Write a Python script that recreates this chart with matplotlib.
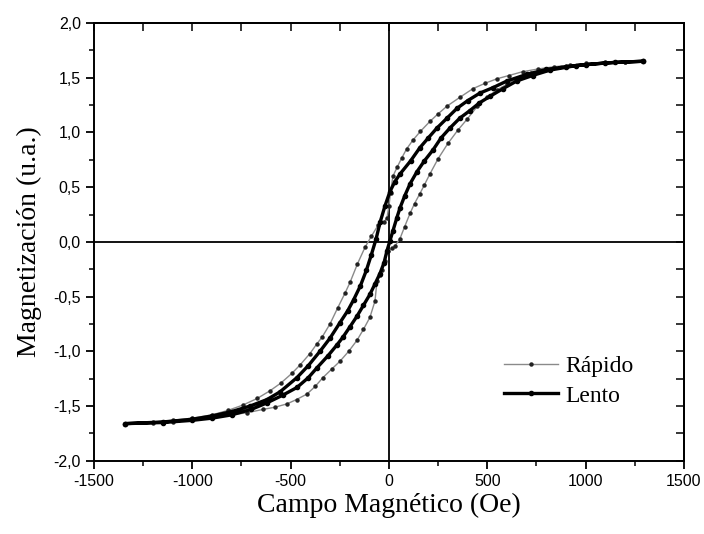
import numpy as np
import matplotlib
matplotlib.use("Agg")
from matplotlib import pyplot as plt
from matplotlib.ticker import MultipleLocator, FuncFormatter

# Rapido loop (outer, wider) - descending branch then ascending branch
rap_h_down = [1290, 1200, 1100, 1000, 920, 840, 760, 680, 610, 549, 490, 427, 360, 295, 250,
              208, 160, 122, 90, 66, 41, 20, 8, 0, -10, -25, -56, -90, -122, -160, -198, -224,
              -260, -300, -340, -366, -402, -450, -493, -550, -605, -670, -742, -820, -900,
              -1000, -1100, -1200, -1340]
rap_m_down = [1.65, 1.645, 1.635, 1.625, 1.615, 1.60, 1.58, 1.555, 1.52, 1.49, 1.45, 1.40, 1.32,
              1.24, 1.17, 1.10, 1.01, 0.93, 0.85, 0.77, 0.68, 0.60, 0.45, 0.33, 0.22, 0.18, 0.15,
              0.05, -0.05, -0.20, -0.37, -0.47, -0.60, -0.75, -0.87, -0.93, -1.02, -1.12, -1.20,
              -1.29, -1.36, -1.43, -1.49, -1.54, -1.58, -1.61, -1.63, -1.645, -1.66]
rap_h_up = [-1340, -1200, -1100, -1000, -900, -800, -720, -640, -580, -519, -470, -417, -375,
            -336, -290, -249, -205, -163, -130, -97, -71, -61, -45, -36, -20, -5, 15, 30, 56, 80,
            107, 130, 157, 180, 208, 250, 300, 350, 397, 450, 498, 550, 600, 660, 720, 800, 900,
            1000, 1100, 1200, 1290]
rap_m_up = [-1.665, -1.655, -1.645, -1.63, -1.61, -1.58, -1.56, -1.53, -1.51, -1.48, -1.44,
            -1.39, -1.32, -1.24, -1.16, -1.09, -1.00, -0.90, -0.80, -0.69, -0.54, -0.36, -0.30,
            -0.26, -0.17, -0.08, -0.06, -0.04, 0.03, 0.14, 0.26, 0.35, 0.44, 0.52, 0.62, 0.76,
            0.90, 1.02, 1.12, 1.24, 1.32, 1.39, 1.44, 1.50, 1.54, 1.58, 1.61, 1.63, 1.64, 1.645,
            1.65]

# Lento loop (inner, narrower)
len_h_down = [1290, 1150, 1000, 900, 800, 700, 600, 530, 463, 400, 346, 295, 244, 200, 157, 110,
              56, 30, 5, -20, -45, -65, -90, -115, -145, -180, -210, -250, -300, -351, -410, -468,
              -554, -620, -707, -800, -900, -1000, -1150, -1340]
len_m_down = [1.65, 1.64, 1.62, 1.60, 1.575, 1.53, 1.47, 1.41, 1.36, 1.29, 1.22, 1.13, 1.04,
              0.95, 0.86, 0.74, 0.62, 0.55, 0.46, 0.33, 0.18, 0.03, -0.12, -0.26, -0.40, -0.53,
              -0.63, -0.74, -0.88, -1.00, -1.13, -1.24, -1.37, -1.44, -1.50, -1.55, -1.59, -1.62,
              -1.645, -1.66]
len_h_up = [-1340, -1150, -1000, -900, -800, -700, -620, -540, -468, -410, -366, -310, -264,
            -234, -200, -163, -130, -97, -70, -46, -25, -10, 5, 20, 40, 56, 80, 107, 142, 180, 224,
            265, 310, 360, 412, 460, 514, 580, 650, 730, 820, 950, 1100, 1290]
len_m_up = [-1.66, -1.65, -1.63, -1.61, -1.58, -1.53, -1.47, -1.40, -1.33, -1.24, -1.15, -1.04,
            -0.94, -0.87, -0.78, -0.68, -0.58, -0.48, -0.38, -0.29, -0.19, -0.08, 0.01, 0.10,
            0.22, 0.31, 0.42, 0.53, 0.64, 0.74, 0.84, 0.95, 1.04, 1.13, 1.20, 1.27, 1.33, 1.40,
            1.47, 1.52, 1.57, 1.61, 1.635, 1.65]

x_ticks = [-1500, -1000, -500, 0, 500, 1000, 1500]
y_ticks = [-2.0, -1.5, -1.0, -0.5, 0.0, 0.5, 1.0, 1.5, 2.0]

serif = "Liberation Serif"
sans = "Liberation Sans"

fig = plt.figure(figsize=(7.04, 5.34), dpi=100)
ax = fig.add_axes([0.1335, 0.137, 0.838, 0.82])

ax.axhline(0, color="black", lw=1.3, zorder=1)
ax.axvline(0, color="black", lw=1.3, zorder=1)

ax.plot(rap_h_down + rap_h_up, rap_m_down + rap_m_up, color="#8a8a8a", lw=1.0,
        marker="o", ms=2.2, mfc="#222222", mec="#222222", label="Rápido", zorder=3)
ax.plot(len_h_down + len_h_up, len_m_down + len_m_up, color="black", lw=2.4,
        marker="o", ms=3.0, mfc="black", mec="black", label="Lento", zorder=4)

ax.set_xlim(-1500, 1500)
ax.set_ylim(-2.0, 2.0)
ax.set_xticks(x_ticks)
ax.set_yticks(y_ticks)
ax.xaxis.set_minor_locator(MultipleLocator(250))
ax.yaxis.set_minor_locator(MultipleLocator(0.25))
ax.xaxis.set_major_formatter(FuncFormatter(lambda v, p: f"{int(v)}"))
ax.yaxis.set_major_formatter(FuncFormatter(lambda v, p: f"{v:.1f}".replace(".", ",")))
ax.tick_params(which="major", direction="out", length=6, width=1.3, labelsize=11.5)
ax.tick_params(which="minor", direction="out", length=3.5, width=1.1)
for lab in ax.get_xticklabels() + ax.get_yticklabels():
    lab.set_fontfamily(sans)

for s in ax.spines.values():
    s.set_linewidth(1.4)

# mirrored inward ticks on top and right
top = ax.secondary_xaxis("top")
top.set_xticks(x_ticks)
top.xaxis.set_minor_locator(MultipleLocator(250))
top.tick_params(which="both", direction="in", length=6, width=1.1, labeltop=False)
top.spines["top"].set_linewidth(1.4)
right = ax.secondary_yaxis("right")
right.set_yticks(y_ticks)
right.yaxis.set_minor_locator(MultipleLocator(0.25))
right.tick_params(which="both", direction="in", length=6, width=1.1, labelright=False)
right.spines["right"].set_linewidth(1.4)

ax.set_xlabel("Campo Magnético (Oe)", fontsize=20, family=serif, labelpad=3)
ax.set_ylabel("Magnetización (u.a.)", fontsize=20, family=serif, labelpad=8)

ax.legend(loc="lower right", bbox_to_anchor=(0.95, 0.075), frameon=False,
          prop={"family": serif, "size": 17}, handlelength=2.3, handletextpad=0.3,
          labelspacing=0.35)

fig.savefig("out.png", dpi=100)
